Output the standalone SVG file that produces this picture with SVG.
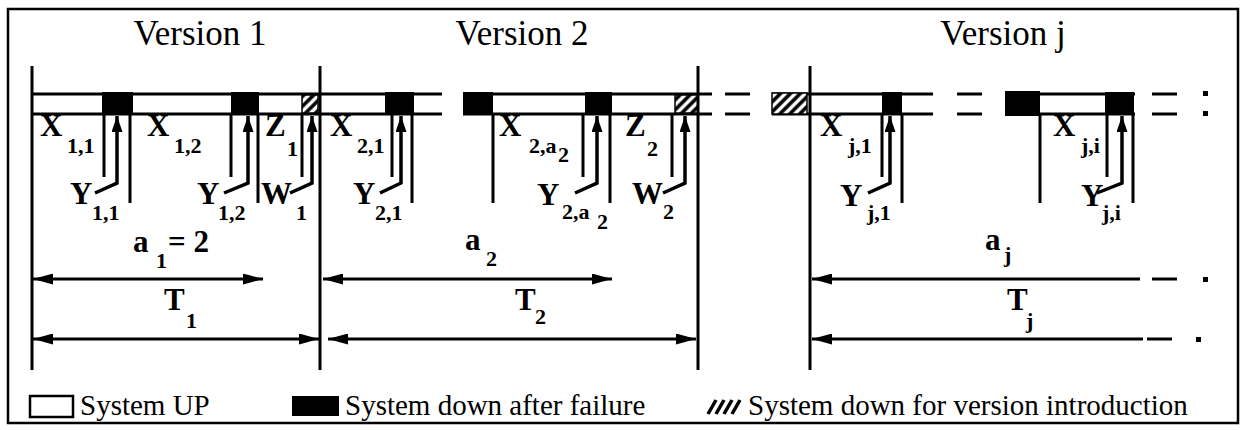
<svg xmlns="http://www.w3.org/2000/svg" width="1244" height="430" viewBox="0 0 1244 430" font-family="'Liberation Serif', 'DejaVu Serif', 'Times New Roman', serif">
<style>
.ln{stroke:#000;stroke-width:3;fill:none}
.bar{stroke:#000;stroke-width:3}
.blk{fill:#000}
.hat{fill:url(#hatch);stroke:#000;stroke-width:1.5}
.ptr{stroke:#000;stroke-width:3.5;fill:none;marker-end:url(#ph)}
.dim{stroke:#000;stroke-width:3;fill:none}
text{font-family:'Liberation Serif','DejaVu Serif','Times New Roman',serif;fill:#000}
.t{font-size:35px}
.l{font-size:31px;font-weight:bold}
.s{font-size:22px;font-weight:bold}
.g{font-size:29px}
</style>
<defs>
<pattern id="hatch" patternUnits="userSpaceOnUse" width="7" height="7" patternTransform="rotate(45)">
<rect width="7" height="7" fill="#fff"/>
<line x1="2" y1="0" x2="2" y2="7" stroke="#000" stroke-width="3.5"/>
</pattern>
<marker id="ph" markerUnits="userSpaceOnUse" markerWidth="16" markerHeight="11" refX="16" refY="5.5" orient="auto">
<path d="M0,0 L16,5.5 L0,11 z" fill="#000"/>
</marker>
<marker id="da" markerUnits="userSpaceOnUse" markerWidth="20" markerHeight="11" refX="20" refY="5.5" orient="auto-start-reverse">
<path d="M0,0 L20,5.5 L0,11 z" fill="#000"/>
</marker>
</defs>
<rect x="8" y="9" width="1230" height="414" fill="#fff" stroke="#000" stroke-width="2.5"/>

<g id="titles">
<text class="t" x="200" y="45" text-anchor="middle" font-family="Liberation Serif, serif">Version 1</text>
<text class="t" x="522" y="45" text-anchor="middle" font-family="Liberation Serif, serif">Version 2</text>
<text class="t" x="1003" y="45" text-anchor="middle" font-family="Liberation Serif, serif">Version j</text>
</g>

<g id="timeline-bars">
<path class="bar" d="M32,94H442M32,114H442M463,94H712M463,114H712M725,94H750M725,114H750M772,94H933M772,114H933M957,94H982M957,114H982M1005,94H1135M1005,114H1135M1152,94H1177M1152,114H1177"/>
<rect x="1203" y="91" width="5" height="5" class="blk"/>
<rect x="1203" y="111" width="5" height="5" class="blk"/>
</g>

<g id="version1">
<rect class="blk" x="102" y="92" width="31" height="23"/>
<rect class="blk" x="231" y="92" width="28" height="23"/>
<rect class="hat" x="302" y="95" width="16" height="18"/>
<path class="ln" d="M32,66V370M320,66V370M130,114V203M258,114V203M104,114V177M231,114V177M302,114V177"/>
<text class="l" x="40" y="136">X</text><text class="s" x="67" y="153">1,1</text>
<text class="l" x="147" y="136">X</text><text class="s" x="174" y="153">1,2</text>
<text class="l" x="265" y="136">Z</text><text class="s" x="287" y="156">1</text>
<text class="l" x="70" y="204">Y</text><text class="s" x="92" y="220">1,1</text>
<text class="l" x="197" y="204">Y</text><text class="s" x="218" y="220">1,2</text>
<text class="l" x="261" y="204">W</text><text class="s" x="296" y="220">1</text>
<text class="l" x="133" y="252">a</text><text class="s" x="156" y="268">1</text><text class="l" x="168" y="252">= 2</text>
<text class="l" x="164" y="310">T</text><text class="s" x="186" y="328">1</text>
</g>

<g id="version2">
<rect class="blk" x="385" y="92" width="29" height="23"/>
<rect class="blk" x="463" y="92" width="30" height="23"/>
<rect class="blk" x="585" y="92" width="27" height="23"/>
<rect class="hat" x="675" y="95" width="23" height="18"/>
<path class="ln" d="M698,66V370M412,114V203M493,114V203M610,114V203M392,114V177M583,114V177M672,114V177"/>
<text class="l" x="330" y="136">X</text><text class="s" x="357" y="153">2,1</text>
<text class="l" x="499" y="136">X</text><text class="s" x="529" y="153">2,a</text><text class="s" x="558" y="162">2</text>
<text class="l" x="625" y="136">Z</text><text class="s" x="647" y="156">2</text>
<text class="l" x="353" y="204">Y</text><text class="s" x="375" y="220">2,1</text>
<text class="l" x="537" y="205">Y</text><text class="s" x="562" y="219">2,a</text><text class="s" x="597" y="229">2</text>
<text class="l" x="632" y="204">W</text><text class="s" x="663" y="219">2</text>
<text class="l" x="465" y="250">a</text><text class="s" x="486" y="266">2</text>
<text class="l" x="515" y="310">T</text><text class="s" x="535" y="324">2</text>
</g>

<g id="versionj">
<rect class="hat" x="772" y="93" width="35" height="21"/>
<rect class="blk" x="882" y="92" width="20" height="23"/>
<rect class="blk" x="1005" y="91" width="35" height="25"/>
<rect class="blk" x="1105" y="92" width="29" height="23"/>
<path class="ln" d="M810,66V370M902,114V203M1040,114V203M1133,114V203M882,114V177M1107,114V177"/>
<text class="l" x="820" y="136">X</text><text class="s" x="848" y="153">j,1</text>
<text class="l" x="1053" y="136">X</text><text class="s" x="1081" y="153">j,i</text>
<text class="l" x="840" y="206">Y</text><text class="s" x="867" y="220">j,1</text>
<text class="l" x="1081" y="206">Y</text><text class="s" x="1102" y="220">j,i</text>
<text class="l" x="985" y="250">a</text><text class="s" x="1004" y="262">j</text>
<text class="l" x="1007" y="310">T</text><text class="s" x="1026" y="328">j</text>
</g>

<g id="connectors">
<path class="ptr" d="M95,193L117,183V116"/>
<path class="ptr" d="M224,193L248,183V116"/>
<path class="ptr" d="M290,193L312,183V116"/>
<path class="ptr" d="M380,193L401,183V116"/>
<path class="ptr" d="M575,193L597,183V116"/>
<path class="ptr" d="M663,193L685,183V116"/>
<path class="ptr" d="M868,193L890,183V116"/>
<path class="ptr" d="M1097,193L1122,183V116"/>
<path class="dim" d="M33,279H263" marker-start="url(#da)" marker-end="url(#da)"/>
<path class="dim" d="M33,339H319" marker-start="url(#da)" marker-end="url(#da)"/>
<path class="dim" d="M323,279H612" marker-start="url(#da)" marker-end="url(#da)"/>
<path class="dim" d="M328,339H696" marker-start="url(#da)" marker-end="url(#da)"/>
<path class="dim" d="M812,279H1140" marker-start="url(#da)"/>
<path class="dim" d="M812,339H1143" marker-start="url(#da)"/>
<path class="dim" d="M1152,279H1177M1147,339H1172"/>
<rect x="1203" y="277" width="5" height="5" class="blk"/>
<rect x="1196" y="337" width="5" height="5" class="blk"/>
</g>

<g id="legend">
<rect x="30" y="396" width="43" height="21" fill="#fff" stroke="#000" stroke-width="2.5"/>
<text class="g" x="80" y="415">System UP</text>
<rect class="blk" x="292" y="396" width="47" height="20"/>
<text class="g" x="345" y="415">System down after failure</text>
<path d="M708,414L716,400M716,414L724,400M724,414L732,400M732,414L740,400" stroke="#000" stroke-width="3.5"/>
<text class="g" x="748" y="415">System down for version introduction</text>
</g>
</svg>
